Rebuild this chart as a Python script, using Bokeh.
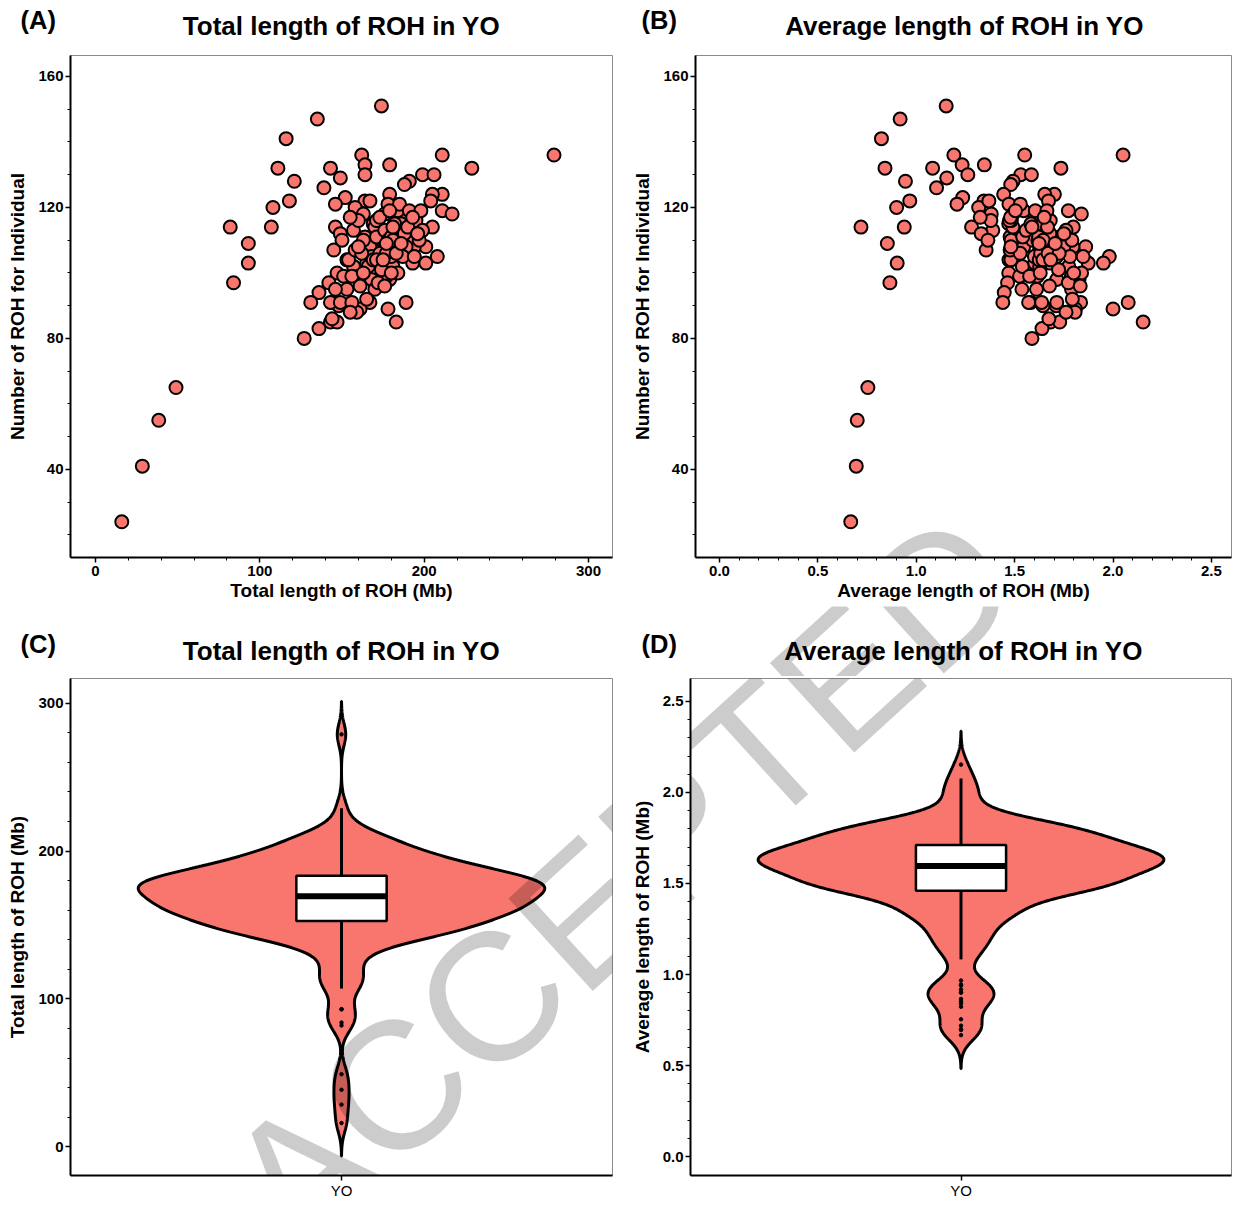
import numpy as np
from bokeh.plotting import figure
from bokeh.models import FixedTicker, Label, Range1d, PrintfTickFormatter
from bokeh.layouts import column, row
from bokeh.embed import file_html
from bokeh.resources import INLINE

# ---------------- data ----------------
total_length = [16, 28.5, 38.5, 49, 82, 84, 93, 93, 107, 108, 111, 116,
                118, 121, 135, 139, 143, 174, 162, 164, 164, 179, 149, 211,
                279, 229, 199, 206, 191, 188, 211, 205, 179, 152, 146, 164,
                178, 158, 204, 211, 217, 163, 176, 189, 195, 205, 146, 157,
                149, 164, 179, 201, 208, 201, 145, 159, 174, 194, 193, 147,
                159, 173, 181, 151, 142, 153, 168, 179, 136, 170, 131, 144,
                154, 167, 189, 178, 161, 159, 148, 143, 147, 136, 183, 127,
                167, 169, 184, 170, 184, 192, 199, 153, 167, 182, 189, 157,
                165, 187, 194, 160, 177, 184, 146, 161, 143, 149, 156, 165,
                144, 155, 172, 186, 160, 175, 188, 168, 180, 197, 163, 185,
                171, 155, 150, 191, 198, 154, 158, 162, 166, 156, 163, 169,
                160, 171, 173, 176, 178, 180, 182, 171, 174, 177, 181, 183,
                172, 176, 180, 173, 177, 179, 181, 175, 186, 190, 193, 196]
roh_count = [24, 41, 55, 65, 114, 97, 109, 103, 114, 120, 132, 141,
             122, 128, 147, 126, 132, 151, 136, 133, 130, 133, 129, 136,
             136, 132, 130, 130, 128, 127, 124, 124, 124, 123, 121, 122,
             121, 120, 122, 119, 118, 118, 118, 118, 116, 114, 114, 113,
             112, 111, 111, 108, 105, 103, 107, 107, 107, 108, 103, 100,
             101, 103, 102, 99, 97, 95, 98, 98, 94, 95, 91, 91,
             90, 91, 91, 89, 89, 88, 90, 85, 85, 83, 85, 80,
             122, 115, 119, 114, 112, 111, 113, 104, 108, 108, 108, 102,
             103, 105, 105, 99, 99, 100, 95, 96, 91, 91, 91, 92,
             86, 88, 116, 115, 116, 110, 112, 105, 105, 110, 110, 121,
             116, 117, 110, 119, 119, 104, 107, 106, 102, 99, 100, 104,
             108, 111, 106, 113, 110, 111, 115, 104, 101, 106, 110, 106,
             97, 96, 100, 117, 109, 119, 114, 104, 109, 114, 117, 112]
average_length = [0.667, 0.695, 0.700, 0.754, 0.719, 0.866, 0.853, 0.903, 0.939, 0.900, 0.841, 0.823,
                  0.967, 0.945, 0.918, 1.103, 1.083, 1.152, 1.191, 1.233, 1.262, 1.346, 1.155, 1.551,
                  2.051, 1.735, 1.531, 1.585, 1.492, 1.480, 1.702, 1.653, 1.444, 1.236, 1.207, 1.344,
                  1.471, 1.317, 1.672, 1.773, 1.839, 1.381, 1.492, 1.602, 1.681, 1.798, 1.281, 1.389,
                  1.330, 1.477, 1.613, 1.861, 1.981, 1.951, 1.355, 1.486, 1.626, 1.796, 1.874, 1.470,
                  1.574, 1.680, 1.775, 1.525, 1.464, 1.611, 1.714, 1.827, 1.447, 1.789, 1.440, 1.582,
                  1.711, 1.835, 2.077, 2.000, 1.809, 1.807, 1.644, 1.682, 1.729, 1.639, 2.153, 1.588,
                  1.369, 1.470, 1.546, 1.491, 1.643, 1.730, 1.761, 1.471, 1.546, 1.685, 1.750, 1.539,
                  1.602, 1.781, 1.848, 1.616, 1.788, 1.840, 1.537, 1.677, 1.571, 1.637, 1.714, 1.793,
                  1.674, 1.761, 1.483, 1.617, 1.379, 1.591, 1.679, 1.600, 1.714, 1.791, 1.482, 1.529,
                  1.474, 1.325, 1.364, 1.605, 1.664, 1.481, 1.477, 1.528, 1.627, 1.576, 1.630, 1.625,
                  1.481, 1.541, 1.632, 1.558, 1.618, 1.622, 1.583, 1.644, 1.723, 1.670, 1.645, 1.726,
                  1.773, 1.833, 1.800, 1.479, 1.624, 1.504, 1.588, 1.683, 1.706, 1.667, 1.650, 1.750]
group_name = "YO"

titles = ["Total length of ROH in YO", "Average length of ROH in YO",
          "Total length of ROH in YO", "Average length of ROH in YO"]
panel_tags = ["(A)", "(B)", "(C)", "(D)"]

count_ticks = [40, 80, 120, 160]
count_minor = list(range(20, 161, 10))
total_ticks = [0, 100, 200, 300]
total_minor = list(range(0, 301, 20))
avg_ticks = [0.0, 0.5, 1.0, 1.5, 2.0, 2.5]
avg_minor = [round(0.1 * i, 1) for i in range(0, 26)]
watermark = "ACCEPTED"

FILL = "#F8766D"
FONT = "Liberation Sans"
common = dict(output_backend="svg", toolbar_location=None, title=None)


def style(p, xlabel, ylabel):
    p.outline_line_color = "#8a8a8a"
    p.outline_line_width = 1
    p.xgrid.visible = False
    p.ygrid.visible = False
    for ax in (p.xaxis[0], p.yaxis[0]):
        ax.axis_line_width = 2
        ax.axis_line_color = "black"
        ax.major_tick_line_width = 1.5
        ax.major_tick_line_color = "black"
        ax.major_tick_out = 5
        ax.major_tick_in = 0
        ax.minor_tick_out = 3
        ax.minor_tick_in = 0
        ax.minor_tick_line_width = 1
        ax.minor_tick_line_color = "black"
        ax.major_label_text_font = FONT
        ax.major_label_text_font_size = "15px"
        ax.major_label_text_font_style = "bold"
        ax.major_label_text_color = "black"
        ax.axis_label_text_font = FONT
        ax.axis_label_text_font_size = "19px"
        ax.axis_label_text_font_style = "bold"
        ax.axis_label_text_color = "black"
    p.xaxis.axis_label = xlabel
    p.yaxis.axis_label = ylabel
    p.xaxis.major_label_standoff = 3
    p.xaxis.axis_label_standoff = 1
    p.yaxis.major_label_standoff = 2
    p.yaxis.axis_label_standoff = 7


def heading_strip(height, items):
    s = figure(width=1236, height=height, x_range=Range1d(0, 1), y_range=Range1d(0, 1),
               x_axis_location=None, y_axis_location=None, min_border=0, **common)
    s.outline_line_color = None
    s.xgrid.visible = False
    s.ygrid.visible = False
    for text, x, y, align, size in items:
        s.add_layout(Label(x=x, y=y, x_units="screen", y_units="screen", text=text,
                           text_font=FONT, text_font_size=size, text_font_style="bold",
                           text_align=align, text_baseline="alphabetic", text_color="black"))
    return s


def add_watermark(p, frame_left, frame_bottom):
    # one page position for every canvas; each canvas shows its own part
    cx, cy = 621, 882
    p.add_layout(Label(x=cx - frame_left, y=frame_bottom - cy, x_units="screen", y_units="screen",
                       text=watermark, text_font=FONT, text_font_size="182px",
                       text_align="center", text_baseline="middle", angle=0.74,
                       text_color="black", text_alpha=0.2))


def violin(p, values):
    v = np.asarray(values, dtype=float)
    n = len(v)
    q1, med, q3 = np.percentile(v, [25, 50, 75])
    iqr = q3 - q1
    bw = 0.9 * min(v.std(ddof=1), iqr / 1.34) * n ** -0.2
    grid = np.linspace(v.min() - 3 * bw, v.max() + 3 * bw, 600)
    dens = np.exp(-0.5 * ((grid[:, None] - v[None, :]) / bw) ** 2).sum(axis=1)
    half = 0.45 * dens / dens.max()
    xs = np.concatenate([1 - half, (1 + half)[::-1]])
    ys = np.concatenate([grid, grid[::-1]])
    p.patch(xs, ys, fill_color=FILL, line_color="black", line_width=3)
    lo = v[v >= q1 - 1.5 * iqr].min()
    hi = v[v <= q3 + 1.5 * iqr].max()
    p.segment(x0=[1, 1], y0=[lo, q3], x1=[1, 1], y1=[q1, hi], line_color="black", line_width=3)
    p.quad(left=[0.9], right=[1.1], bottom=[q1], top=[q3], fill_color="white",
           line_color="black", line_width=2.5)
    p.segment(x0=[0.9], x1=[1.1], y0=[med], y1=[med], line_color="black", line_width=6)
    out = v[(v < lo) | (v > hi)]
    p.scatter(x=np.ones(len(out)), y=out, size=3.5, color="black")


# ---------------- heading strips ----------------
T, G = "26px", "25.5px"
head1 = heading_strip(52, [(panel_tags[0], 20, 33, "left", G), (titles[0], 341, 27, "center", T),
                           (panel_tags[1], 641, 33, "left", G), (titles[1], 964, 27, "center", T)])
head2 = heading_strip(70, [(panel_tags[2], 20, 33, "left", G), (titles[2], 341, 26, "center", T),
                           (panel_tags[3], 641, 33, "left", G), (titles[3], 963, 26, "center", T)])

# ---------------- (A) ----------------
pA = figure(width=620, height=554, x_range=Range1d(-15.2, 314.6), y_range=Range1d(13.1, 166.4),
            min_border_left=70, min_border_right=8, min_border_top=3, min_border_bottom=49, **common)
style(pA, "Total length of ROH (Mb)", "Number of ROH for Individual")
pA.xaxis.ticker = FixedTicker(ticks=total_ticks, minor_ticks=total_minor)
pA.yaxis.ticker = FixedTicker(ticks=count_ticks, minor_ticks=count_minor)
pA.scatter(total_length, roh_count, size=13, fill_color=FILL, line_color="black", line_width=2)

# ---------------- (B) ----------------
pB = figure(width=616, height=554, x_range=Range1d(-0.122, 2.602), y_range=Range1d(13.1, 166.4),
            min_border_left=75, min_border_right=5, min_border_top=3, min_border_bottom=49, **common)
style(pB, "Average length of ROH (Mb)", "Number of ROH for Individual")
pB.xaxis.ticker = FixedTicker(ticks=avg_ticks, minor_ticks=avg_minor)
pB.xaxis.formatter = PrintfTickFormatter(format="%.1f")
pB.yaxis.ticker = FixedTicker(ticks=count_ticks, minor_ticks=count_minor)
pB.scatter(average_length, roh_count, size=13, fill_color=FILL, line_color="black", line_width=2)

# ---------------- (C) ----------------
pC = figure(width=620, height=525, x_range=Range1d(0.4, 1.6), y_range=Range1d(-19.5, 316.8),
            min_border_left=70, min_border_right=8, min_border_top=2, min_border_bottom=23, **common)
style(pC, None, "Total length of ROH (Mb)")
pC.xaxis.ticker = FixedTicker(ticks=[1])
pC.xaxis.major_label_overrides = {1: group_name}
pC.xaxis.major_label_text_font_style = "normal"
pC.xaxis.major_label_standoff = 1
pC.yaxis.ticker = FixedTicker(ticks=total_ticks, minor_ticks=total_minor)
violin(pC, total_length)

# ---------------- (D) ----------------
pD = figure(width=616, height=525, x_range=Range1d(0.4, 1.6), y_range=Range1d(-0.104, 2.626),
            min_border_left=70, min_border_right=5, min_border_top=2, min_border_bottom=23, **common)
style(pD, None, "Average length of ROH (Mb)")
pD.xaxis.ticker = FixedTicker(ticks=[1])
pD.xaxis.major_label_overrides = {1: group_name}
pD.xaxis.major_label_text_font_style = "normal"
pD.xaxis.major_label_standoff = 1
pD.yaxis.ticker = FixedTicker(ticks=avg_ticks, minor_ticks=avg_minor)
pD.yaxis.formatter = PrintfTickFormatter(format="%.1f")
violin(pD, average_length)

add_watermark(head2, 0, 676)
add_watermark(pB, 695, 557)
add_watermark(pC, 70, 1178)
add_watermark(pD, 690, 1178)

layout = column(head1, row(pA, pB), head2, row(pC, pD))
open("out.html", "w").write(file_html(layout, INLINE))
